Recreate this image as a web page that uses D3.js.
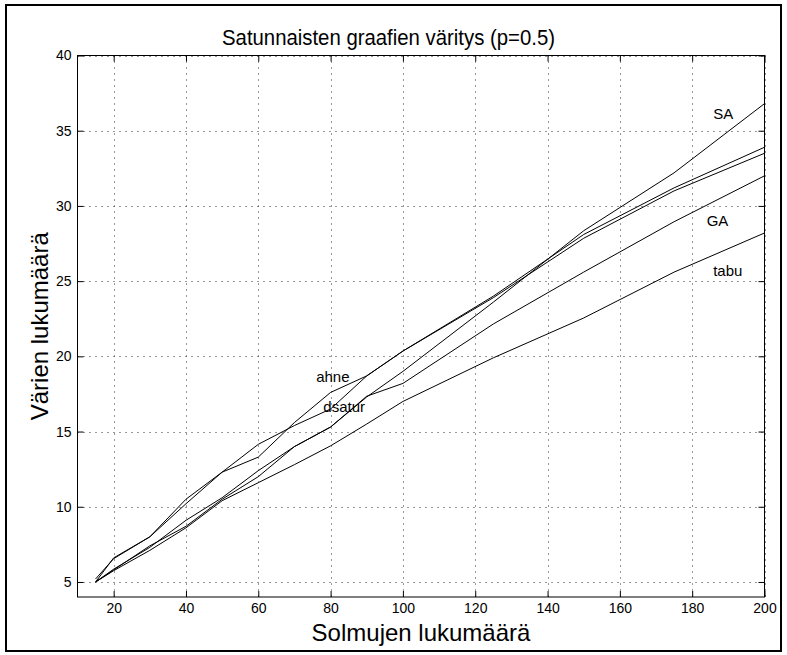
<!DOCTYPE html>
<html>
<head>
<meta charset="utf-8">
<script src="https://cdn.jsdelivr.net/npm/d3@7"></script>
<style>
  html, body { margin: 0; padding: 0; background: #fff; }
  svg { display: block; }
  text { font-family: "Liberation Sans", Arial, Helvetica, sans-serif; fill: #000; }
</style>
</head>
<body>
<svg id="chart" width="787" height="655"></svg>
<script>
// ---- data ----
const nodes  = [15, 20, 30, 40, 50, 60, 70, 80, 90, 100, 125, 150, 175, 200];
const ahne   = [5.0, 6.6, 8.0, 10.2, 12.3, 13.3, 15.6, 17.6, 18.7, 20.35, 24.0, 28.1, 31.2, 33.9];
const dsatur = [5.2, 6.55, 8.0, 10.5, 12.3, 14.15, 15.4, 16.5, 18.7, 20.35, 23.9, 27.85, 31.0, 33.5];
const sa     = [5.0, 5.85, 7.3, 9.1, 10.6, 12.4, 14.0, 15.3, 17.3, 19.0, 23.6, 28.35, 32.2, 36.8];
const ga     = [5.0, 5.8, 7.4, 8.7, 10.5, 12.0, 14.0, 15.3, 17.35, 18.2, 22.15, 25.6, 28.95, 32.0];
const tabu   = [5.0, 5.75, 7.1, 8.6, 10.4, 11.6, 12.8, 14.05, 15.5, 17.0, 19.9, 22.55, 25.6, 28.2];

const xTicks = [20, 40, 60, 80, 100, 120, 140, 160, 180, 200];
const yTicks = [5, 10, 15, 20, 25, 30, 35, 40];
const xDomain = [10, 200];
const yDomain = [4, 40];

const seriesNames = ["ahne", "dsatur", "SA", "GA", "tabu"];
const seriesValues = [ahne, dsatur, sa, ga, tabu];

// text annotations in data coordinates
const labelText = ["SA", "GA", "tabu", "ahne", "dsatur"];
const labelX    = [185.8, 184.0, 185.8, 76.0, 78.0];
const labelY    = [36.1, 29.0, 25.7, 18.65, 16.65];

const titleText = "Satunnaisten graafien väritys (p=0.5)";
const xTitle = "Solmujen lukumäärä";
const yTitle = "Värien lukumäärä";

// ---- layout ----
const svg = d3.select("#chart");
const L = 77.5, R = 764.5, T = 55.5, B = 597;

const x = d3.scaleLinear().domain(xDomain).range([L, R]);
const y = d3.scaleLinear().domain(yDomain).range([B, T]);

// outer frame
svg.append("rect")
  .attr("x", 6).attr("y", 5).attr("width", 775).attr("height", 646)
  .attr("fill", "none").attr("stroke", "#000").attr("stroke-width", 2);

// grid
const grid = svg.append("g");
grid.selectAll("line.vg").data(xTicks).join("line")
  .attr("x1", d => Math.round(x(d)) + 0.5).attr("x2", d => Math.round(x(d)) + 0.5)
  .attr("y1", T).attr("y2", B)
  .attr("stroke", "#333").attr("stroke-width", 1).attr("stroke-dasharray", "1,5");
grid.selectAll("line.hg").data(yTicks).join("line")
  .attr("y1", d => Math.round(y(d)) + 0.5).attr("y2", d => Math.round(y(d)) + 0.5)
  .attr("x1", L).attr("x2", R)
  .attr("stroke", "#333").attr("stroke-width", 1).attr("stroke-dasharray", "1,5");

// axes (MATLAB style: ticks inward, on all four sides)
const tk = 6;
const bottomAxis = d3.axisBottom(x).tickValues(xTicks).tickSize(-tk).tickPadding(6);
const leftAxis = d3.axisLeft(y).tickValues(yTicks).tickSize(-tk).tickPadding(6);
const topAxis = d3.axisTop(x).tickValues(xTicks).tickSize(-tk).tickFormat("");
const rightAxis = d3.axisRight(y).tickValues(yTicks).tickSize(-tk).tickFormat("");

function styleAxis(g) {
  g.selectAll("path").remove();
  g.selectAll("line").attr("stroke", "#000");
  g.selectAll("text").attr("font-size", "14px")
    .attr("font-family", "'Liberation Sans', Arial, sans-serif").attr("fill", "#000");
}
svg.append("g").attr("transform", `translate(0,${B})`).call(bottomAxis).call(styleAxis);
svg.append("g").attr("transform", `translate(${L},0)`).call(leftAxis).call(styleAxis);
svg.append("g").attr("transform", `translate(0,${T})`).call(topAxis).call(styleAxis);
svg.append("g").attr("transform", `translate(${R},0)`).call(rightAxis).call(styleAxis);

// box
svg.append("rect")
  .attr("x", L).attr("y", T).attr("width", R - L).attr("height", B - T)
  .attr("fill", "none").attr("stroke", "#000").attr("stroke-width", 1);

// series
const line = d3.line().x((d, i) => x(nodes[i])).y(d => y(d));
svg.append("g").selectAll("path").data(seriesValues).join("path")
  .attr("d", d => line(d))
  .attr("fill", "none").attr("stroke", "#000").attr("stroke-width", 1)
  .attr("data-name", (d, i) => seriesNames[i]);

// annotations
svg.append("g").selectAll("text").data(labelText).join("text")
  .attr("x", (d, i) => x(labelX[i]))
  .attr("y", (d, i) => y(labelY[i]))
  .attr("dy", "0.35em")
  .attr("font-size", "15px")
  .text(d => d);

// titles
svg.append("text").attr("x", 222).attr("y", 45)
  .attr("text-anchor", "start").attr("font-size", "22px")
  .attr("textLength", 333).attr("lengthAdjust", "spacingAndGlyphs")
  .text(titleText);
svg.append("text").attr("x", (L + R) / 2).attr("y", 641)
  .attr("text-anchor", "middle").attr("font-size", "24px").text(xTitle);
svg.append("text").attr("transform", `translate(48,${(T + B) / 2}) rotate(-90)`)
  .attr("text-anchor", "middle").attr("font-size", "24px").text(yTitle);
</script>
</body>
</html>
